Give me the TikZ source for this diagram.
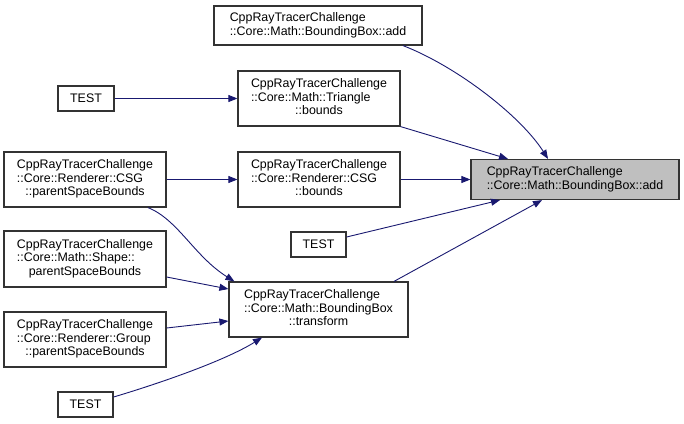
\documentclass[tikz,border=0pt]{standalone}
\usepackage{fontspec}
\setmainfont{Liberation Sans}
\usetikzlibrary{arrows.meta}
\definecolor{cedge}{HTML}{191970}
\definecolor{cmain}{HTML}{BFBFBF}
\definecolor{cline}{HTML}{333333}
\newcommand{\fnname}[3]{\begin{tabular}{@{}l@{}}#1\\#2\\\multicolumn{1}{@{}c@{}}{#3}\end{tabular}}
\tikzset{
  every picture/.style={x=1pt, y=-1pt},
  fnbox/.style={draw=cline, fill=#1, line width=1.2pt, inner sep=0pt, align=left,
    font=\fontsize{12.4}{13.6}\selectfont},
  fnbox/.default=white,
  arrow/.style={-{Triangle[length=9pt, width=7pt]}, draw=cedge, line width=0.9pt},
}

\begin{document}
\begin{tikzpicture}
  \useasboundingbox (0,0) rectangle (684,423);
  \node[fnbox, minimum width=208pt, minimum height=39pt] (addtop) at (318,25.5) {CppRayTracerChallenge\\::Core::Math::BoundingBox::add};
  \node[fnbox, minimum width=56pt, minimum height=25pt] (test1) at (86,98.5) {TEST};
  \node[fnbox, minimum width=162pt, minimum height=55pt] (tri) at (319,98.5) {\fnname{CppRayTracerChallenge}{::Core::Math::Triangle}{::bounds}};
  \node[fnbox, minimum width=162pt, minimum height=55pt] (csgpsb) at (85,179.5) {\fnname{CppRayTracerChallenge}{::Core::Renderer::CSG}{::parentSpaceBounds}};
  \node[fnbox, minimum width=162pt, minimum height=55pt] (csgb) at (319,179.5) {\fnname{CppRayTracerChallenge}{::Core::Renderer::CSG}{::bounds}};
  \node[fnbox=cmain, minimum width=208pt, minimum height=40pt] (add) at (575,179.5) {CppRayTracerChallenge\\::Core::Math::BoundingBox::add};
  \node[fnbox, minimum width=55pt, minimum height=25pt] (test2) at (318.5,244.5) {TEST};
  \node[fnbox, minimum width=162pt, minimum height=56pt] (shapepsb) at (85,259) {\fnname{CppRayTracerChallenge}{::Core::Math::Shape::}{parentSpaceBounds}};
  \node[fnbox, minimum width=179pt, minimum height=55pt] (transform) at (318.5,309.5) {\fnname{CppRayTracerChallenge}{::Core::Math::BoundingBox}{::transform}};
  \node[fnbox, minimum width=162pt, minimum height=55pt] (grouppsb) at (85,339.5) {\fnname{CppRayTracerChallenge}{::Core::Renderer::Group}{::parentSpaceBounds}};
  \node[fnbox, minimum width=55pt, minimum height=25pt] (test3) at (85.5,404.5) {TEST};

  \draw[arrow] ([xshift=85pt]addtop.south) .. controls +(52,20) and +(-28,-44) .. ([xshift=-27pt]add.north);
  \draw[arrow] (tri.south east) -- ([xshift=-67pt]add.north);
  \draw[arrow] (csgb.east) -- (add.west);
  \draw[arrow] ([yshift=7.5pt]test2.east) -- ([xshift=-75pt]add.south);
  \draw[arrow] ([xshift=75.5pt]transform.north) -- ([xshift=-33pt]add.south);
  \draw[arrow] (test1.east) -- (tri.west);
  \draw[arrow] (csgpsb.east) -- (csgb.west);
  \draw[arrow] ([xshift=63pt]csgpsb.south) .. controls +(30,12) and +(-40,-25) .. ([xshift=6pt]transform.north west);
  \draw[arrow] ([yshift=-18pt]shapepsb.east) -- ([yshift=20.5pt]transform.west);
  \draw[arrow] ([yshift=11.5pt]grouppsb.east) -- ([yshift=-11.5pt]transform.west);
  \draw[arrow] ([yshift=7.5pt]test3.east) .. controls +(47,-14) and +(-37,23) .. ([xshift=-56.5pt]transform.south);
\end{tikzpicture}
\end{document}
